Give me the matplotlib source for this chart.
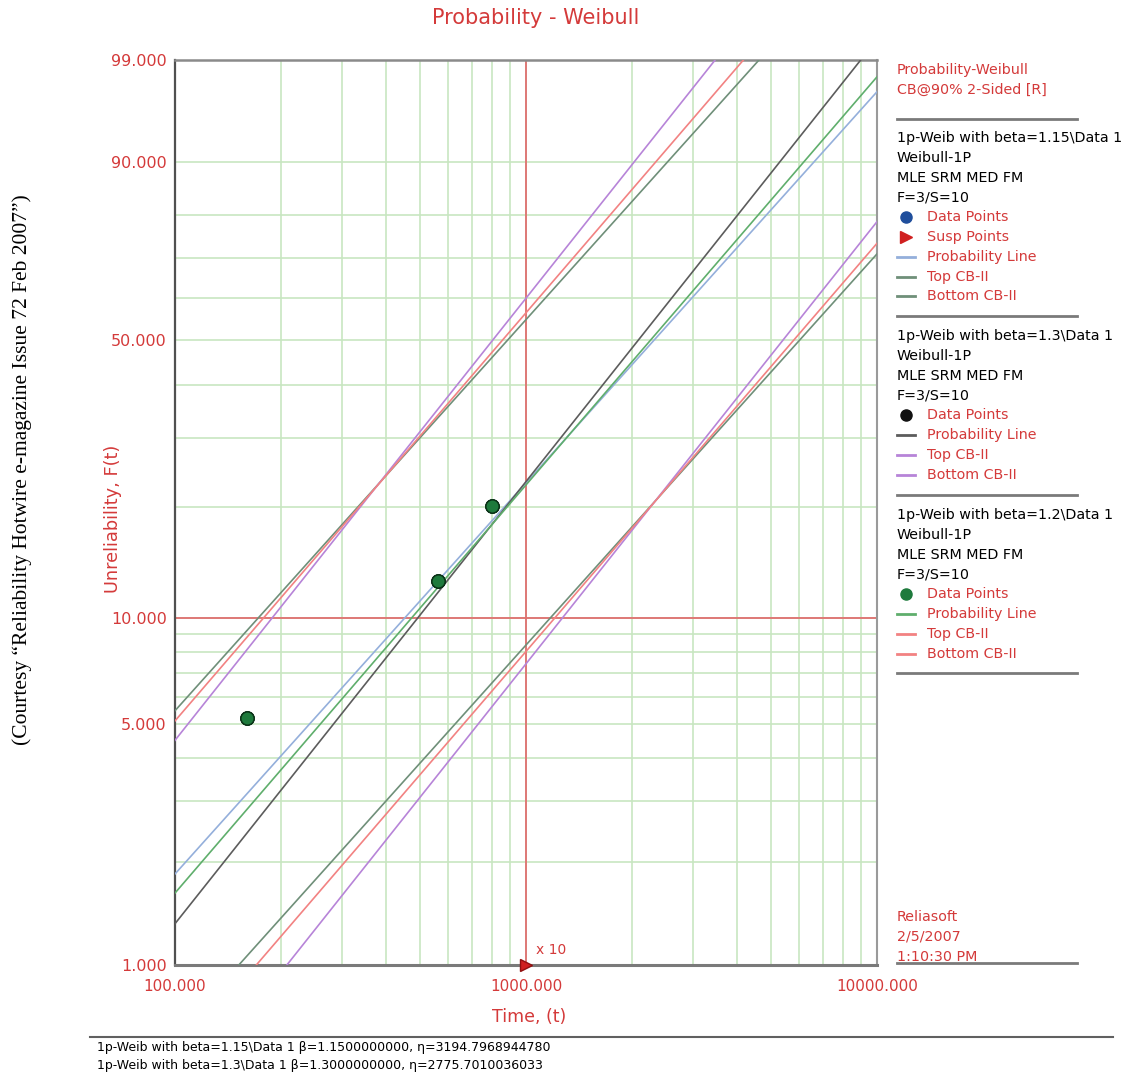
import numpy as np
import matplotlib
matplotlib.use('Agg')
import matplotlib.pyplot as plt

# ---------------- data ----------------
fail_times = [160, 562, 799]            # failure times (t)
unreliability = [5.22, 12.66, 20.14]    # median ranks, %
susp_time = 1000
susp_count = 10
crosshair_time = 1000
crosshair_F = 10

model_names = ['1p-Weib with beta=1.15\\Data 1',
               '1p-Weib with beta=1.3\\Data 1',
               '1p-Weib with beta=1.2\\Data 1']
betas = [1.15, 1.3, 1.2]
etas = [3194.7968944780, 2775.7010036033, 3080.0]
eta_top = [1222, 1068, 1166]        # Top CB-II (90% 2-sided)
eta_bottom = [8300, 7170, 7880]     # Bottom CB-II

y_ticks = [1, 5, 10, 50, 90, 99]
y_minor = [2, 3, 4, 6, 7, 8, 9, 20, 30, 40, 60, 70, 80]
x_ticks = [100, 1000, 10000]
x_minor = [200, 300, 400, 500, 600, 700, 800, 900,
           2000, 3000, 4000, 5000, 6000, 7000, 8000, 9000]

prob_colors = ['#94afdb', '#5c5c5c', '#5fae6c']
cb_colors = ['#6f8f79', '#b784d8', '#f28282']
pt_colors = ['#1f4e9c', '#111111', '#1e7a3c']

RED = '#d43a3a'
GRID = '#c8e6c1'

# ---------------- figure ----------------
W, H = 1133, 1078
fig = plt.figure(figsize=(W / 100, H / 100), dpi=100)
L, R, T, B = 175, 877, 60, 965
ax = fig.add_axes([L / W, 1 - B / H, (R - L) / W, (B - T) / H])


def fwd(F):
    p = np.clip(np.asarray(F, dtype=float) / 100.0, 1e-12, 1 - 1e-12)
    return np.log(-np.log(1 - p))


def inv(y):
    return 100.0 * (1 - np.exp(-np.exp(y)))


ax.set_xscale('log')
ax.set_yscale('function', functions=(fwd, inv))
ax.set_xlim(100, 10000)
ax.set_ylim(1, 99)

ax.set_xticks(x_ticks)
ax.set_xticks(x_minor, minor=True)
ax.set_xticklabels(['%.3f' % v for v in x_ticks], color=RED, fontsize=11)
ax.set_xticklabels([], minor=True)
ax.set_yticks(y_ticks)
ax.set_yticks(y_minor, minor=True)
ax.set_yticklabels(['%.3f' % v for v in y_ticks], color=RED, fontsize=11.5)
ax.set_yticklabels([], minor=True)
ax.tick_params(which='both', length=0)
ax.tick_params(axis='x', pad=10)
ax.tick_params(axis='y', pad=6)
ax.grid(which='both', color=GRID, lw=1.2, zorder=0)
ax.set_axisbelow(True)

for side, c, lw in [('left', '#505050', 1.6), ('bottom', '#7a7a7a', 2.2),
                    ('top', '#8a8a8a', 1.8), ('right', '#9a9a9a', 1.5)]:
    ax.spines[side].set_color(c)
    ax.spines[side].set_linewidth(lw)

ax.axvline(crosshair_time, color='#e07070', lw=1.3, zorder=1)
ax.axhline(crosshair_F, color='#e07070', lw=1.3, zorder=1)


def weib_line(beta, eta):
    t0 = eta * (-np.log(1 - 0.005)) ** (1 / beta)
    t1 = eta * (-np.log(1 - 0.995)) ** (1 / beta)
    t = np.geomspace(t0, t1, 60)
    F = 100 * (1 - np.exp(-(t / eta) ** beta))
    return t, F


for b, e, et, eb, pc, cc in zip(betas, etas, eta_top, eta_bottom, prob_colors, cb_colors):
    for eta_v, col in [(et, cc), (eb, cc), (e, pc)]:
        t, F = weib_line(b, eta_v)
        ax.plot(t, F, color=col, lw=1.2, zorder=3)

for pc in pt_colors:
    ax.plot(fail_times, unreliability, 'o', ms=9.5, mfc=pc, mec='#0b3318',
            mew=1.0, zorder=5)

ax.plot([susp_time], [1], '>', ms=9, color='#d02020', mec='#901010',
        clip_on=False, zorder=6)
ax.annotate('x %d' % susp_count, (susp_time, 1), xytext=(7, 6),
            textcoords='offset points', color=RED, fontsize=10,
            va='bottom', ha='left')

# ---------------- overlay in pixel coordinates ----------------
ov = fig.add_axes([0, 0, 1, 1], facecolor='none')
ov.set_xlim(0, W)
ov.set_ylim(H, 0)
ov.axis('off')

FS = 10.3
ov.text(536, 18, 'Probability - Weibull', color=RED, fontsize=15,
        ha='center', va='center')
ov.text(529, 1017, 'Time, (t)', color=RED, fontsize=12.5, ha='center', va='center')
ov.text(113, 519, 'Unreliability, F(t)', color=RED, fontsize=12.8, rotation=90,
        ha='center', va='center')
ov.text(22, 470, '(Courtesy \u201cReliability Hotwire e-magazine Issue 72 Feb 2007\u201d)',
        family='Liberation Serif', fontsize=15.5, rotation=90,
        ha='center', va='center', color='black')

LX = 897
ov.text(LX, 70, 'Probability-Weibull', color=RED, fontsize=FS, va='center')
ov.text(LX, 90, 'CB@90% 2-Sided [R]', color=RED, fontsize=FS, va='center')

sep_color = '#7a7a7a'
for ysep in [119, 316, 495, 673, 963]:
    ov.plot([LX, 1077], [ysep, ysep], color=sep_color, lw=2)

blocks = [138, 336, 515]
item_sets = [
    [('o', 'Data Points', pt_colors[0]), ('>', 'Susp Points', '#d02020'),
     ('-', 'Probability Line', prob_colors[0]), ('-', 'Top CB-II', cb_colors[0]),
     ('-', 'Bottom CB-II', cb_colors[0])],
    [('o', 'Data Points', pt_colors[1]), ('-', 'Probability Line', prob_colors[1]),
     ('-', 'Top CB-II', cb_colors[1]), ('-', 'Bottom CB-II', cb_colors[1])],
    [('o', 'Data Points', pt_colors[2]), ('-', 'Probability Line', prob_colors[2]),
     ('-', 'Top CB-II', cb_colors[2]), ('-', 'Bottom CB-II', cb_colors[2])],
]
dy = 19.8
for y0, name, items in zip(blocks, model_names, item_sets):
    header = [name, 'Weibull-1P', 'MLE SRM MED FM', 'F=3/S=10']
    for i, h in enumerate(header):
        ov.text(LX, y0 + i * dy, h, color='black', fontsize=FS, va='center')
    for j, (m, lab, c) in enumerate(items):
        yy = y0 + (4 + j) * dy
        if m == '-':
            ov.plot([LX, 915], [yy, yy], color=c, lw=2)
        elif m == 'o':
            ov.plot([906], [yy], 'o', ms=8, mfc=c, mec=c)
        else:
            ov.plot([906], [yy], '>', ms=8, color=c)
        ov.text(927, yy, lab, color=RED, fontsize=FS, va='center')

ov.text(LX, 917, 'Reliasoft', color=RED, fontsize=FS, va='center')
ov.text(LX, 937, '2/5/2007', color=RED, fontsize=FS, va='center')
ov.text(LX, 957, '1:10:30 PM', color=RED, fontsize=FS, va='center')

ov.plot([90, 1113], [1037, 1037], color='#606060', lw=1.5)
ov.text(97, 1048, '1p-Weib with beta=1.15\\Data 1 \u03b2=1.1500000000, \u03b7=3194.7968944780',
        fontsize=9, va='center', color='black')
ov.text(97, 1066, '1p-Weib with beta=1.3\\Data 1 \u03b2=1.3000000000, \u03b7=2775.7010036033',
        fontsize=9, va='center', color='black')

fig.savefig('out.png', dpi=100)
